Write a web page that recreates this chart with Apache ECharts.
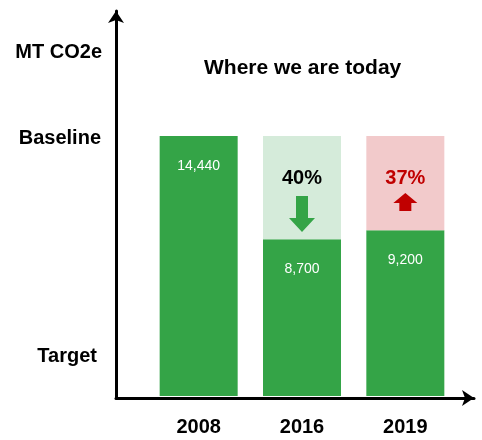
<!DOCTYPE html>
<html lang="en">
  <head>
    <meta charset="UTF-8" />
    <title>Where we are today</title>
    <script src="https://cdn.jsdelivr.net/npm/echarts@6/dist/echarts.min.js"></script>
  </head>
  <body style="margin: 0">
    <div id="main" style="width: 482px; height: 440px"></div>
    <script type="text/javascript">
      // data
      const years = ["2008", "2016", "2019"];
      const baseline = 14440;
      const emissions = [14440, 8700, 9200];
      const changes = [null, "40%", "37%"];
      const directions = [null, "down", "up"];

      const green = "#34A447";
      const gapColors = ["#D5EBDA", "#D5EBDA", "#F2CACB"];
      const changeColors = { down: "#000000", up: "#C00000" };
      const arrowColors = { down: "#34A447", up: "#C00000" };
      const font = "Liberation Sans";

      const gaps = emissions.map((v) => baseline - v);

      let myChart = echarts.init(document.getElementById("main"));

      // arrow outline for the change marker, relative to the bar top
      function arrowPoints(x, y, dir) {
        if (dir === "down") {
          return [
            [x - 6, y + 60], [x + 6, y + 60], [x + 6, y + 82], [x + 13, y + 82],
            [x, y + 96], [x - 13, y + 82], [x - 6, y + 82],
          ];
        }
        return [
          [x, y + 57], [x + 12, y + 67], [x + 6, y + 67], [x + 6, y + 75],
          [x - 6, y + 75], [x - 6, y + 67], [x - 12, y + 67],
        ];
      }

      let options = {
        animation: false,
        title: {
          text: "Where we are today",
          left: 199,
          top: 53,
          textStyle: { fontFamily: font, fontSize: 21, fontWeight: "bold", color: "#000" },
        },
        grid: [
          { left: 147, right: 25, top: 136, bottom: 44 },
          { left: 116, right: 8, top: 11, bottom: 42 },
        ],
        xAxis: [
          {
            type: "category",
            data: years,
            gridIndex: 0,
            axisLine: { show: false },
            axisTick: { show: false },
            axisLabel: {
              margin: 21,
              fontFamily: font,
              fontSize: 20,
              fontWeight: "bold",
              color: "#000",
            },
          },
          {
            type: "value",
            gridIndex: 1,
            axisLine: {
              show: true,
              symbol: ["none", "arrow"],
              symbolSize: [12, 12],
              lineStyle: { color: "#000", width: 3 },
            },
            axisTick: { show: false },
            axisLabel: { show: false },
            splitLine: { show: false },
          },
        ],
        yAxis: [
          {
            type: "value",
            gridIndex: 0,
            min: 0,
            max: baseline,
            axisLine: { show: false },
            axisTick: { show: false },
            axisLabel: { show: false },
            splitLine: { show: false },
          },
          {
            type: "value",
            gridIndex: 1,
            axisLine: {
              show: true,
              symbol: ["none", "arrow"],
              symbolSize: [12, 12],
              lineStyle: { color: "#000", width: 3 },
            },
            axisTick: { show: false },
            axisLabel: { show: false },
            splitLine: { show: false },
          },
        ],
        graphic: [
          {
            type: "text",
            right: 380,
            top: 42,
            style: { text: "MT CO2e", font: "bold 20px " + font, fill: "#000" },
          },
          {
            type: "text",
            right: 381,
            top: 128,
            style: { text: "Baseline", font: "bold 20px " + font, fill: "#000" },
          },
          {
            type: "text",
            right: 385,
            top: 346,
            style: { text: "Target", font: "bold 20px " + font, fill: "#000" },
          },
        ],
        series: [
          {
            name: "Emissions",
            type: "bar",
            stack: "total",
            barWidth: 78,
            data: emissions,
            itemStyle: { color: green },
            label: {
              show: true,
              position: "insideTop",
              distance: 23,
              color: "#fff",
              fontFamily: font,
              fontSize: 14,
              formatter: (p) => p.value.toLocaleString("en-US"),
            },
          },
          {
            name: "Gap to baseline",
            type: "bar",
            stack: "total",
            barWidth: 78,
            data: gaps.map((v, i) => ({ value: v, itemStyle: { color: gapColors[i] } })),
          },
          {
            name: "Change",
            type: "custom",
            xAxisIndex: 0,
            yAxisIndex: 0,
            z: 10,
            data: years.map((y, i) => [i, baseline]),
            renderItem: function (params, api) {
              const i = params.dataIndex;
              if (!changes[i]) return null;
              const top = api.coord([api.value(0), api.value(1)]);
              const dir = directions[i];
              return {
                type: "group",
                children: [
                  {
                    type: "text",
                    style: {
                      text: changes[i],
                      x: top[0],
                      y: top[1] + 42,
                      align: "center",
                      verticalAlign: "middle",
                      font: "bold 20px " + font,
                      fill: changeColors[dir],
                    },
                  },
                  {
                    type: "polygon",
                    shape: { points: arrowPoints(top[0], top[1], dir) },
                    style: { fill: arrowColors[dir] },
                  },
                ],
              };
            },
          },
        ],
      };

      myChart.setOption(options);
    </script>
  </body>
</html>
